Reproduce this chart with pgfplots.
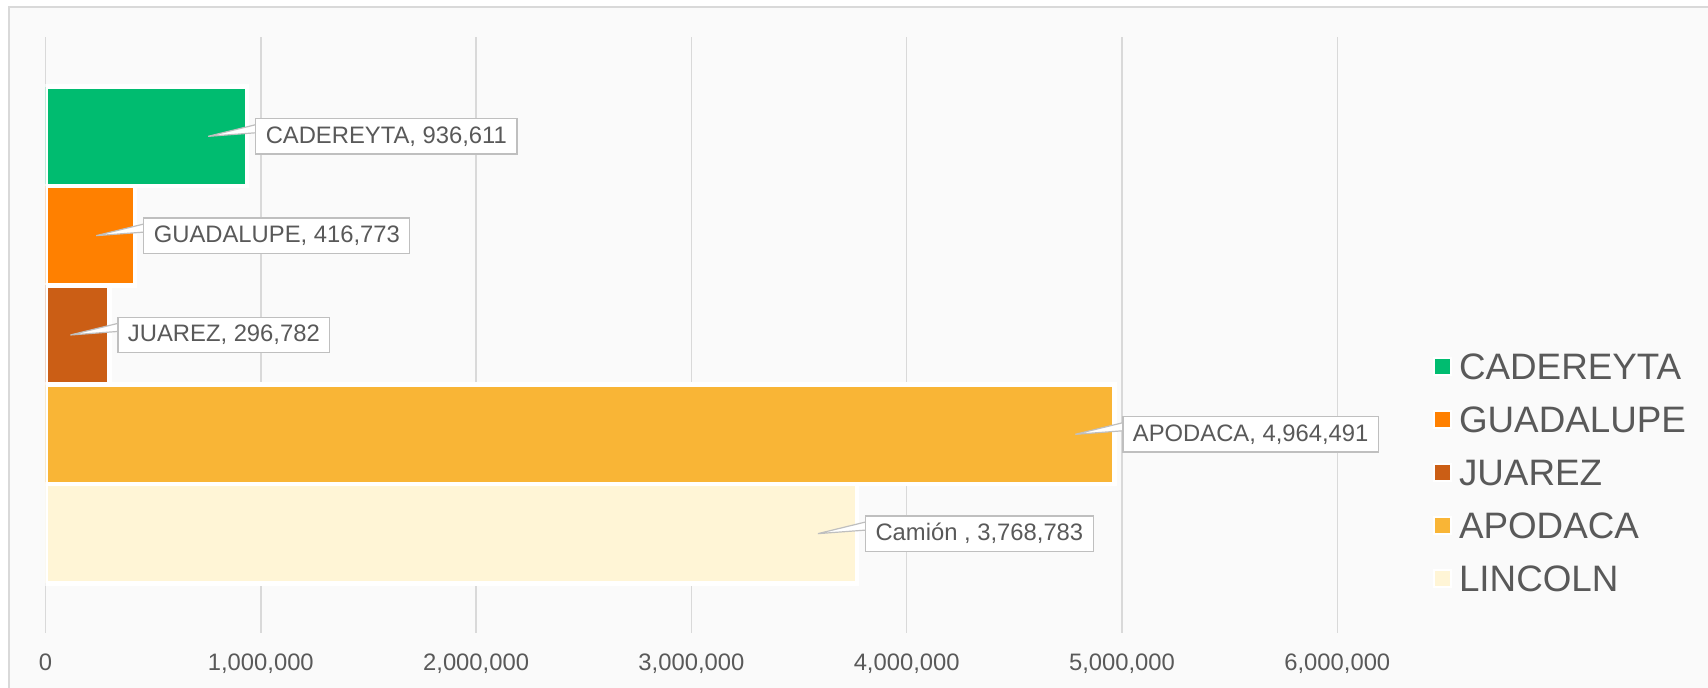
\documentclass[border=0pt]{standalone}
\usepackage{fontspec}
\setmainfont{Liberation Sans}
\usepackage{pgfplots}
\pgfplotsset{compat=1.18}

\definecolor{cad}{HTML}{00BC70}
\definecolor{gua}{HTML}{FF8000}
\definecolor{jua}{HTML}{CB5E15}
\definecolor{apo}{HTML}{F9B536}
\definecolor{lin}{HTML}{FFF5D6}
\definecolor{txt}{HTML}{595959}
\definecolor{gridc}{HTML}{D9D9D9}
\definecolor{lblline}{HTML}{BFBFBF}
\definecolor{bg}{HTML}{FAFAFA}

\newcommand\lblfont{\fontsize{11.9}{14}\selectfont}
\newcommand\legfont{\fontsize{18.4}{22}\selectfont}

\begin{document}
\begin{tikzpicture}
\path[use as bounding box] (0,0) rectangle (854pt,344pt);
\clip (0,0) rectangle (854pt,344pt);
\fill[white] (0,0) rectangle (854pt,344pt);
\draw[draw=gridc, fill=bg, line width=1pt] (4.5pt,-10pt) rectangle (870pt,340.25pt);

\begin{axis}[
    at={(22.75pt,27.5pt)}, anchor=south west,
    scale only axis,
    width=645.9pt, height=298pt,
    xmin=0, xmax=6000000,
    ymin=0, ymax=6,
    axis line style={draw=none},
    ytick=\empty,
    xtick={0,1000000,2000000,3000000,4000000,5000000,6000000},
    xticklabels={0,{1,000,000},{2,000,000},{3,000,000},{4,000,000},{5,000,000},{6,000,000}},
    scaled x ticks=false,
    major tick length=0pt,
    xmajorgrids,
    major grid style={draw=gridc, line width=0.75pt},
    xticklabel style={font=\lblfont, text=txt, anchor=base, yshift=-18.75pt},
    legend style={at={(1.0741,0.4701)}, anchor=north west, draw=none, fill=none,
        inner sep=0pt, outer sep=0pt, font=\legfont, text=txt,
        row sep=13.3pt,
        nodes={inner sep=0pt, text height=13.2pt, text depth=0pt},
        /tikz/every odd column/.append style={column sep=3.5pt}},
    legend cell align=left,
    legend image code/.code={\filldraw[#1, draw=white, line width=1pt] (0pt,-4.25pt) rectangle (8.5pt,4.25pt);},
    nodes near coords align=horizontal,
    every node near coord/.append style={
        font=\lblfont, text=txt, fill=white, draw=lblline, line width=0.6pt,
        inner xsep=5pt, inner ysep=0pt, minimum height=17.75pt,
        anchor=west, xshift=4pt,
        append after command={\pgfextra{
            \filldraw[fill=white, draw=lblline, line width=0.6pt]
              ([yshift=5.75pt]\tikzlastnode.west) -- ++(-23.5pt,-5.75pt)
              -- ([yshift=1.75pt]\tikzlastnode.west);}}
    },
]
\addplot[xbar, bar shift=0pt, bar width=1, fill=cad, draw=white, line width=2.2pt,
    nodes near coords={CADEREYTA, 936,611}] coordinates {(936611,5)};
\addplot[xbar, bar shift=0pt, bar width=1, fill=gua, draw=white, line width=2.2pt,
    nodes near coords={GUADALUPE, 416,773}] coordinates {(416773,4)};
\addplot[xbar, bar shift=0pt, bar width=1, fill=jua, draw=white, line width=2.2pt,
    nodes near coords={JUAREZ, 296,782}] coordinates {(296782,3)};
\addplot[xbar, bar shift=0pt, bar width=1, fill=apo, draw=white, line width=2.2pt,
    nodes near coords={APODACA, 4,964,491}] coordinates {(4964491,2)};
\addplot[xbar, bar shift=0pt, bar width=1, fill=lin, draw=white, line width=2.2pt,
    nodes near coords={Camión , 3,768,783}] coordinates {(3768783,1)};
\legend{CADEREYTA, GUADALUPE, JUAREZ, APODACA, LINCOLN}
\end{axis}
\end{tikzpicture}
\end{document}
